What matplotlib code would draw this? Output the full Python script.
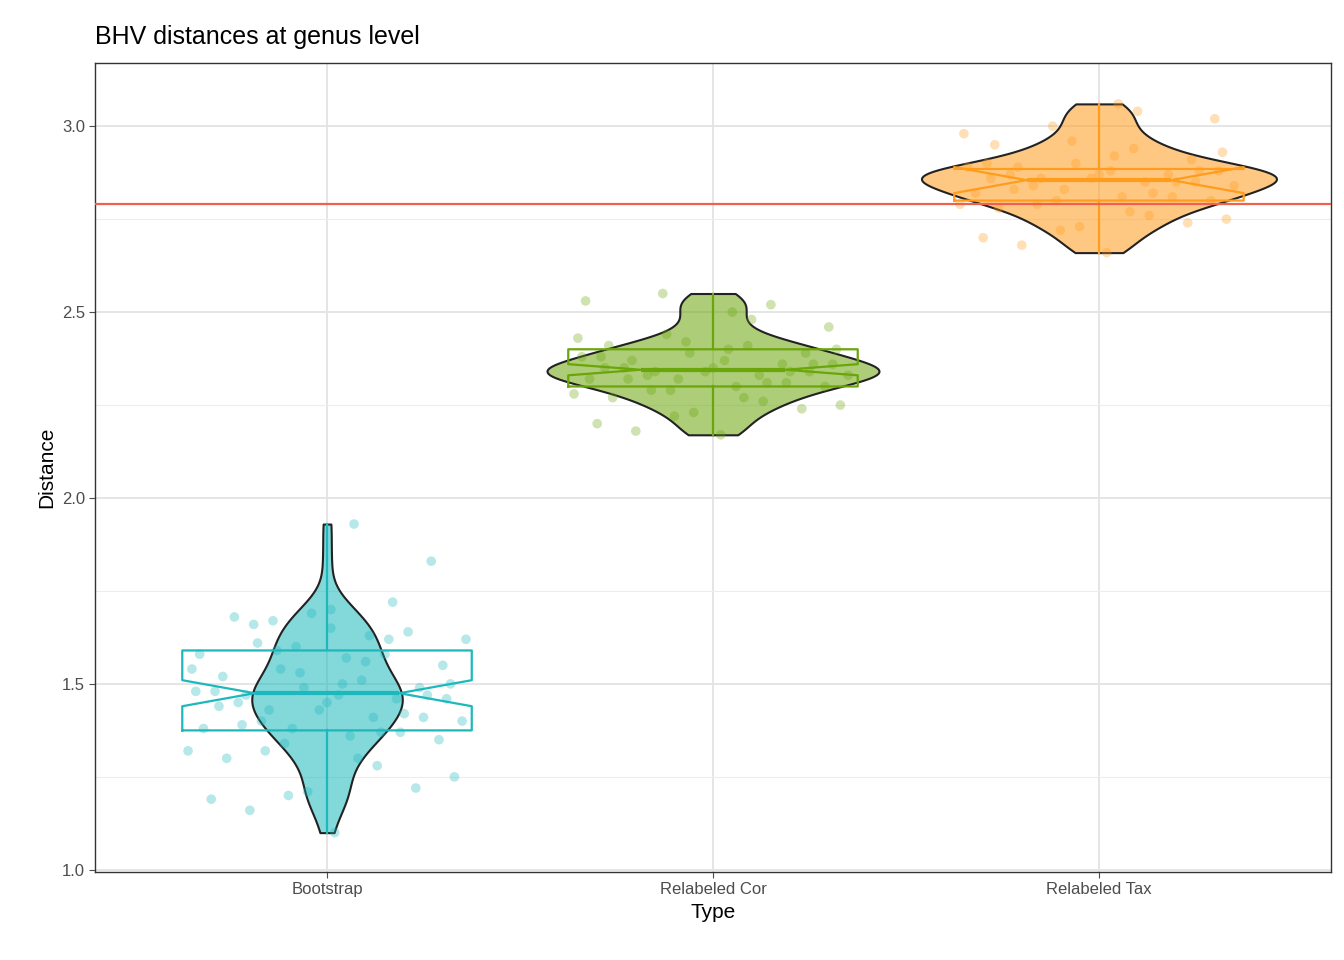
import matplotlib
matplotlib.use("Agg")
import matplotlib.pyplot as plt
from matplotlib.colors import to_rgba

plt.rcParams["font.family"] = ["Liberation Sans", "DejaVu Sans"]

TYPES = ["Bootstrap", "Relabeled Cor", "Relabeled Tax"]
COLORS = ["#1DB8BC", "#6AA50A", "#FF9C1C"]

# Distances (approximate)
BOOT = [1.10, 1.16, 1.19, 1.20, 1.21, 1.22, 1.25, 1.28, 1.30, 1.30, 1.32, 1.32, 1.34,
        1.35, 1.36, 1.37, 1.37, 1.38, 1.38, 1.39, 1.40, 1.40, 1.41, 1.41, 1.42, 1.43,
        1.43, 1.44, 1.45, 1.45, 1.46, 1.46, 1.47, 1.47, 1.47, 1.48, 1.48, 1.49, 1.49,
        1.50, 1.50, 1.51, 1.52, 1.53, 1.54, 1.54, 1.55, 1.56, 1.57, 1.58, 1.58, 1.59,
        1.60, 1.61, 1.62, 1.62, 1.63, 1.64, 1.65, 1.66, 1.67, 1.68, 1.69, 1.70, 1.72,
        1.83, 1.93]
COR = [2.17, 2.18, 2.20, 2.22, 2.23, 2.24, 2.25, 2.26, 2.27, 2.27, 2.28, 2.29, 2.29,
       2.30, 2.30, 2.31, 2.31, 2.32, 2.32, 2.32, 2.33, 2.33, 2.33, 2.34, 2.34, 2.34,
       2.34, 2.35, 2.35, 2.35, 2.36, 2.36, 2.36, 2.37, 2.37, 2.38, 2.38, 2.39, 2.39,
       2.40, 2.40, 2.41, 2.41, 2.42, 2.43, 2.44, 2.46, 2.48, 2.50, 2.52, 2.53, 2.55]
TAX = [2.66, 2.68, 2.70, 2.72, 2.73, 2.74, 2.75, 2.76, 2.77, 2.78, 2.79, 2.79, 2.80,
       2.80, 2.81, 2.81, 2.82, 2.82, 2.83, 2.83, 2.84, 2.84, 2.85, 2.85, 2.85, 2.86,
       2.86, 2.86, 2.87, 2.87, 2.87, 2.88, 2.88, 2.88, 2.89, 2.89, 2.90, 2.90, 2.91,
       2.92, 2.93, 2.94, 2.95, 2.96, 2.98, 3.00, 3.02, 3.04, 3.06]
# horizontal jitter offsets (category units)
JITTER = [0.02, -0.05, 0.08, -0.11, 0.14, -0.17, 0.20, -0.23, 0.26, -0.29, 0.32, -0.35,
          0.05, -0.08, 0.11, -0.14, 0.17, -0.20, 0.23, -0.26, 0.29, -0.32, 0.35, -0.02,
          0.00, 0.03, -0.06, 0.09, -0.12, 0.15, -0.18, 0.21, -0.24, 0.27, -0.30, 0.33,
          -0.36, 0.06, -0.09, 0.12, -0.15, 0.18, -0.21, 0.24, -0.27, 0.30, -0.33, 0.36,
          0.01, -0.04, 0.07, -0.10, 0.13, -0.16, 0.19, -0.22, 0.25, -0.28, 0.31, -0.34,
          0.04, -0.07, 0.10, -0.13, 0.16, -0.19, 0.01]

# boxplot stats: (whislo, q1, median, q3, whishi, cilo, cihi)
BOX = [(1.10, 1.375, 1.475, 1.59, 1.93, 1.44, 1.51),
       (2.17, 2.30, 2.345, 2.40, 2.55, 2.33, 2.36),
       (2.66, 2.80, 2.855, 2.885, 3.06, 2.82, 2.89)]
VIOLIN_WIDTH = [0.39, 0.86, 0.92]
REF_LINE = 2.79

fig = plt.figure(figsize=(13.44, 9.6), dpi=100)
ax = fig.add_axes([0.071, 0.092, 0.919, 0.842])

data = [BOOT, COR, TAX]
for i, (vals, col) in enumerate(zip(data, COLORS)):
    pos = i + 1
    vp = ax.violinplot([vals], positions=[pos], widths=VIOLIN_WIDTH[i],
                       showextrema=False, bw_method=0.33)
    for b in vp["bodies"]:
        b.set_facecolor(to_rgba(col, 0.55))
        b.set_edgecolor("#222222"); b.set_linewidth(1.5)
        b.set_alpha(None)
        b.set_zorder(2)
    n = len(JITTER)
    xs = [pos + JITTER[(k * 17) % n] for k in range(len(vals))]
    ax.scatter(xs, vals, s=48, color=col, alpha=0.32, edgecolors="none", zorder=3)
    lo, q1, med, q3, hi, cl, ch = BOX[i]
    st = dict(whislo=lo, q1=q1, med=med, q3=q3, whishi=hi, cilo=cl, cihi=ch, fliers=[])
    ax.bxp([st], positions=[pos], widths=0.75, shownotches=True, showcaps=False,
           patch_artist=False, manage_ticks=False, zorder=4,
           boxprops=dict(color=col, linewidth=1.6),
           whiskerprops=dict(color=col, linewidth=1.6),
           medianprops=dict(color=col, linewidth=3))

ax.axhline(REF_LINE, color="#F0604D", linewidth=1.6, zorder=5)

ax.set_xlim(0.4, 3.6)
ax.set_ylim(0.995, 3.169)
ax.set_xticks([1, 2, 3])
ax.set_xticklabels(TYPES)
ax.set_yticks([1.0, 1.5, 2.0, 2.5, 3.0])
ax.set_yticks([1.25, 1.75, 2.25, 2.75], minor=True)
ax.grid(which="major", color="#e5e5e5", linewidth=1.4, zorder=0)
ax.grid(which="minor", axis="y", color="#ededed", linewidth=0.8, zorder=0)
ax.set_axisbelow(True)
ax.tick_params(labelsize=12, colors="#4d4d4d", length=4)
ax.tick_params(which="minor", length=0)
for s in ax.spines.values():
    s.set_color("#333333"); s.set_linewidth(1)
ax.set_xlabel("Type", fontsize=15)
ax.set_ylabel("Distance", fontsize=15)
ax.set_title("BHV distances at genus level", fontsize=18, loc="left", x=0.0, pad=14)

fig.savefig("out.png", dpi=100)
